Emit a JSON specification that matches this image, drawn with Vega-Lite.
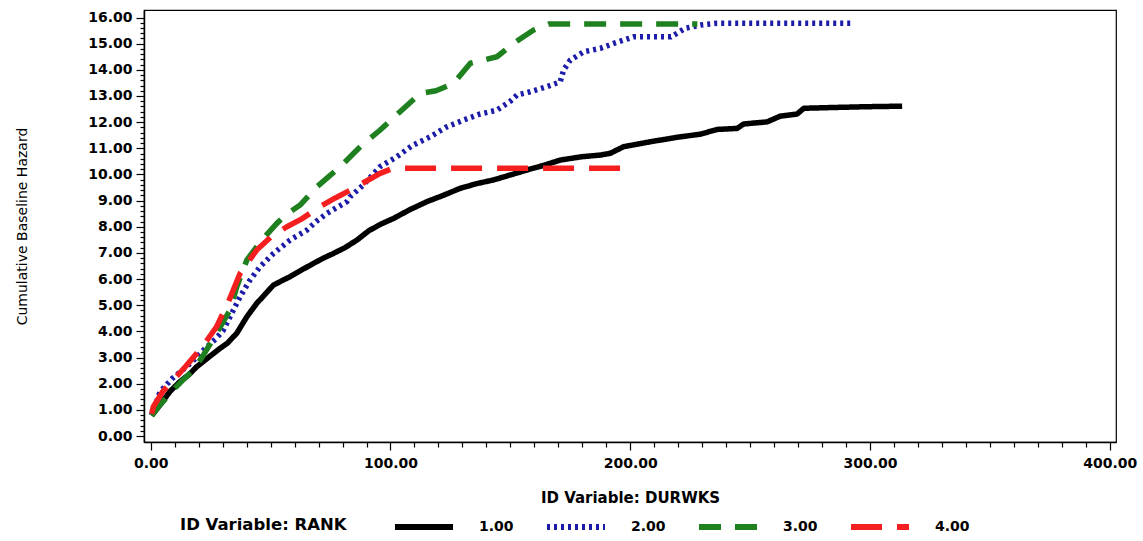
{
  "$schema": "https://vega.github.io/schema/vega-lite/v6.json",
  "width": 972,
  "height": 432,
  "autosize": {"type": "none"},
  "padding": {"left": 144, "top": 10, "right": 27, "bottom": 99},
  "background": "white",
  "config": {"view": {"stroke": "#000", "strokeWidth": 1.2}, "font": "DejaVu Sans"},
  "datasets": {
    "h": [
      {"rank": "1.00", "durwks": 0.4, "hazard": 0.78},
      {"rank": "1.00", "durwks": 4, "hazard": 1.2},
      {"rank": "1.00", "durwks": 8, "hazard": 1.7},
      {"rank": "1.00", "durwks": 12.2, "hazard": 2.08},
      {"rank": "1.00", "durwks": 16, "hazard": 2.35},
      {"rank": "1.00", "durwks": 19.2, "hazard": 2.65},
      {"rank": "1.00", "durwks": 24, "hazard": 3.0},
      {"rank": "1.00", "durwks": 28.9, "hazard": 3.35},
      {"rank": "1.00", "durwks": 32, "hazard": 3.55},
      {"rank": "1.00", "durwks": 35.9, "hazard": 3.93},
      {"rank": "1.00", "durwks": 40.1, "hazard": 4.56},
      {"rank": "1.00", "durwks": 44.2, "hazard": 5.07},
      {"rank": "1.00", "durwks": 47.5, "hazard": 5.4},
      {"rank": "1.00", "durwks": 51.2, "hazard": 5.77},
      {"rank": "1.00", "durwks": 55, "hazard": 5.95},
      {"rank": "1.00", "durwks": 58.1, "hazard": 6.09},
      {"rank": "1.00", "durwks": 63, "hazard": 6.35},
      {"rank": "1.00", "durwks": 67.9, "hazard": 6.6},
      {"rank": "1.00", "durwks": 72, "hazard": 6.8},
      {"rank": "1.00", "durwks": 76.2, "hazard": 6.98},
      {"rank": "1.00", "durwks": 81, "hazard": 7.2},
      {"rank": "1.00", "durwks": 86, "hazard": 7.49},
      {"rank": "1.00", "durwks": 91, "hazard": 7.85},
      {"rank": "1.00", "durwks": 96, "hazard": 8.1},
      {"rank": "1.00", "durwks": 101.3, "hazard": 8.32},
      {"rank": "1.00", "durwks": 108, "hazard": 8.65},
      {"rank": "1.00", "durwks": 115.2, "hazard": 8.96},
      {"rank": "1.00", "durwks": 122, "hazard": 9.2},
      {"rank": "1.00", "durwks": 129.1, "hazard": 9.47},
      {"rank": "1.00", "durwks": 136, "hazard": 9.65},
      {"rank": "1.00", "durwks": 143, "hazard": 9.79},
      {"rank": "1.00", "durwks": 150, "hazard": 9.98},
      {"rank": "1.00", "durwks": 156.9, "hazard": 10.17},
      {"rank": "1.00", "durwks": 164, "hazard": 10.35},
      {"rank": "1.00", "durwks": 170.8, "hazard": 10.55},
      {"rank": "1.00", "durwks": 180, "hazard": 10.68},
      {"rank": "1.00", "durwks": 187.5, "hazard": 10.74},
      {"rank": "1.00", "durwks": 191.7, "hazard": 10.81},
      {"rank": "1.00", "durwks": 197.2, "hazard": 11.06},
      {"rank": "1.00", "durwks": 208.4, "hazard": 11.25},
      {"rank": "1.00", "durwks": 219.5, "hazard": 11.42},
      {"rank": "1.00", "durwks": 229.3, "hazard": 11.54},
      {"rank": "1.00", "durwks": 236.2, "hazard": 11.72},
      {"rank": "1.00", "durwks": 244.6, "hazard": 11.76},
      {"rank": "1.00", "durwks": 247.3, "hazard": 11.93},
      {"rank": "1.00", "durwks": 257.1, "hazard": 12.01},
      {"rank": "1.00", "durwks": 262.6, "hazard": 12.23},
      {"rank": "1.00", "durwks": 269.6, "hazard": 12.31},
      {"rank": "1.00", "durwks": 272.4, "hazard": 12.53},
      {"rank": "1.00", "durwks": 284.9, "hazard": 12.56},
      {"rank": "1.00", "durwks": 298.8, "hazard": 12.59},
      {"rank": "1.00", "durwks": 313.4, "hazard": 12.61},

      {"rank": "2.00", "durwks": 0.4, "hazard": 0.8},
      {"rank": "2.00", "durwks": 2, "hazard": 1.2},
      {"rank": "2.00", "durwks": 3.9, "hazard": 1.69},
      {"rank": "2.00", "durwks": 9, "hazard": 2.2},
      {"rank": "2.00", "durwks": 15, "hazard": 2.65},
      {"rank": "2.00", "durwks": 19, "hazard": 3.0},
      {"rank": "2.00", "durwks": 23.4, "hazard": 3.41},
      {"rank": "2.00", "durwks": 27, "hazard": 3.7},
      {"rank": "2.00", "durwks": 30.3, "hazard": 4.05},
      {"rank": "2.00", "durwks": 33.8, "hazard": 4.69},
      {"rank": "2.00", "durwks": 37.3, "hazard": 5.33},
      {"rank": "2.00", "durwks": 41.4, "hazard": 5.96},
      {"rank": "2.00", "durwks": 45.6, "hazard": 6.47},
      {"rank": "2.00", "durwks": 51.2, "hazard": 6.98},
      {"rank": "2.00", "durwks": 58.1, "hazard": 7.49},
      {"rank": "2.00", "durwks": 65.1, "hazard": 7.87},
      {"rank": "2.00", "durwks": 69, "hazard": 8.2},
      {"rank": "2.00", "durwks": 73.5, "hazard": 8.51},
      {"rank": "2.00", "durwks": 77, "hazard": 8.7},
      {"rank": "2.00", "durwks": 81.8, "hazard": 8.96},
      {"rank": "2.00", "durwks": 83.2, "hazard": 9.15},
      {"rank": "2.00", "durwks": 88.7, "hazard": 9.6},
      {"rank": "2.00", "durwks": 95.7, "hazard": 10.3},
      {"rank": "2.00", "durwks": 102.7, "hazard": 10.68},
      {"rank": "2.00", "durwks": 109, "hazard": 11.1},
      {"rank": "2.00", "durwks": 116.6, "hazard": 11.44},
      {"rank": "2.00", "durwks": 123, "hazard": 11.8},
      {"rank": "2.00", "durwks": 130.5, "hazard": 12.08},
      {"rank": "2.00", "durwks": 137, "hazard": 12.3},
      {"rank": "2.00", "durwks": 144.4, "hazard": 12.46},
      {"rank": "2.00", "durwks": 150, "hazard": 12.8},
      {"rank": "2.00", "durwks": 152.8, "hazard": 13.04},
      {"rank": "2.00", "durwks": 158.3, "hazard": 13.16},
      {"rank": "2.00", "durwks": 165, "hazard": 13.35},
      {"rank": "2.00", "durwks": 170.8, "hazard": 13.54},
      {"rank": "2.00", "durwks": 172.2, "hazard": 13.99},
      {"rank": "2.00", "durwks": 175, "hazard": 14.37},
      {"rank": "2.00", "durwks": 180.6, "hazard": 14.69},
      {"rank": "2.00", "durwks": 187.5, "hazard": 14.82},
      {"rank": "2.00", "durwks": 193.1, "hazard": 15.01},
      {"rank": "2.00", "durwks": 201.4, "hazard": 15.26},
      {"rank": "2.00", "durwks": 217, "hazard": 15.26},
      {"rank": "2.00", "durwks": 223, "hazard": 15.59},
      {"rank": "2.00", "durwks": 229.3, "hazard": 15.71},
      {"rank": "2.00", "durwks": 236.2, "hazard": 15.78},
      {"rank": "2.00", "durwks": 293.2, "hazard": 15.78},

      {"rank": "3.00", "durwks": 0.4, "hazard": 0.78},
      {"rank": "3.00", "durwks": 4, "hazard": 1.2},
      {"rank": "3.00", "durwks": 9.4, "hazard": 1.76},
      {"rank": "3.00", "durwks": 13, "hazard": 2.1},
      {"rank": "3.00", "durwks": 17.8, "hazard": 2.52},
      {"rank": "3.00", "durwks": 22, "hazard": 3.1},
      {"rank": "3.00", "durwks": 27.5, "hazard": 3.93},
      {"rank": "3.00", "durwks": 33.1, "hazard": 4.82},
      {"rank": "3.00", "durwks": 35.9, "hazard": 5.71},
      {"rank": "3.00", "durwks": 40.1, "hazard": 6.73},
      {"rank": "3.00", "durwks": 46.3, "hazard": 7.49},
      {"rank": "3.00", "durwks": 52.6, "hazard": 8.13},
      {"rank": "3.00", "durwks": 57, "hazard": 8.5},
      {"rank": "3.00", "durwks": 62.3, "hazard": 8.83},
      {"rank": "3.00", "durwks": 69.3, "hazard": 9.53},
      {"rank": "3.00", "durwks": 74, "hazard": 9.9},
      {"rank": "3.00", "durwks": 79, "hazard": 10.29},
      {"rank": "3.00", "durwks": 87.4, "hazard": 11.06},
      {"rank": "3.00", "durwks": 95.7, "hazard": 11.7},
      {"rank": "3.00", "durwks": 104, "hazard": 12.4},
      {"rank": "3.00", "durwks": 112.4, "hazard": 13.1},
      {"rank": "3.00", "durwks": 119, "hazard": 13.2},
      {"rank": "3.00", "durwks": 126.3, "hazard": 13.48},
      {"rank": "3.00", "durwks": 133.3, "hazard": 14.25},
      {"rank": "3.00", "durwks": 144.4, "hazard": 14.5},
      {"rank": "3.00", "durwks": 151.3, "hazard": 15.01},
      {"rank": "3.00", "durwks": 159.7, "hazard": 15.52},
      {"rank": "3.00", "durwks": 166, "hazard": 15.75},
      {"rank": "3.00", "durwks": 228, "hazard": 15.75},

      {"rank": "4.00", "durwks": 0.4, "hazard": 0.85},
      {"rank": "4.00", "durwks": 1.1, "hazard": 1.12},
      {"rank": "4.00", "durwks": 5, "hazard": 1.7},
      {"rank": "4.00", "durwks": 9.4, "hazard": 2.14},
      {"rank": "4.00", "durwks": 14, "hazard": 2.6},
      {"rank": "4.00", "durwks": 19.2, "hazard": 3.16},
      {"rank": "4.00", "durwks": 23, "hazard": 3.6},
      {"rank": "4.00", "durwks": 27.5, "hazard": 4.18},
      {"rank": "4.00", "durwks": 32.4, "hazard": 5.13},
      {"rank": "4.00", "durwks": 37.3, "hazard": 6.22},
      {"rank": "4.00", "durwks": 44.2, "hazard": 7.11},
      {"rank": "4.00", "durwks": 50, "hazard": 7.6},
      {"rank": "4.00", "durwks": 56.8, "hazard": 8.0},
      {"rank": "4.00", "durwks": 63, "hazard": 8.3},
      {"rank": "4.00", "durwks": 70.7, "hazard": 8.77},
      {"rank": "4.00", "durwks": 77, "hazard": 9.1},
      {"rank": "4.00", "durwks": 83.2, "hazard": 9.4},
      {"rank": "4.00", "durwks": 90, "hazard": 9.75},
      {"rank": "4.00", "durwks": 95.7, "hazard": 10.04},
      {"rank": "4.00", "durwks": 100, "hazard": 10.2},
      {"rank": "4.00", "durwks": 104, "hazard": 10.24},
      {"rank": "4.00", "durwks": 196, "hazard": 10.24}
    ]
  },
  "data": {"name": "h"},
  "mark": {"type": "line", "strokeWidth": 5.5, "strokeCap": "butt", "strokeJoin": "round"},
  "encoding": {
    "x": {
      "field": "durwks",
      "type": "quantitative",
      "scale": {"domain": [-2.8, 402.6], "nice": false, "zero": false},
      "axis": {
        "values": [0,10,20,30,40,50,60,70,80,90,100,110,120,130,140,150,160,170,180,190,200,210,220,230,240,250,260,270,280,290,300,310,320,330,340,350,360,370,380,390,400],
        "labelExpr": "datum.value % 100 === 0 ? format(datum.value, '.2f') : ''",
        "tickSize": {"condition": {"test": "datum.value % 100 === 0", "value": 8}, "value": 5},
        "grid": false,
        "domainColor": "#000",
        "domainWidth": 1.5,
        "tickColor": "#000",
        "tickWidth": 1.2,
        "labelFont": "DejaVu Sans",
        "labelFontWeight": "bold",
        "labelFontSize": 14,
        "labelColor": "#000",
        "labelPadding": 6,
        "labelOverlap": false,
        "labelFlush": false,
        "title": "ID Variable: DURWKS",
        "titleFont": "DejaVu Sans",
        "titleFontSize": 15,
        "titleFontWeight": "bold",
        "titleColor": "#000",
        "titleX": 486,
        "titleY": 55,
        "titleBaseline": "middle",
        "titleAlign": "center"
      }
    },
    "y": {
      "field": "hazard",
      "type": "quantitative",
      "scale": {"domain": [-0.229, 16.287], "nice": false, "zero": false},
      "axis": {
        "values": [0,0.2,0.4,0.6,0.8,1,1.2,1.4,1.6,1.8,2,2.2,2.4,2.6,2.8,3,3.2,3.4,3.6,3.8,4,4.2,4.4,4.6,4.8,5,5.2,5.4,5.6,5.8,6,6.2,6.4,6.6,6.8,7,7.2,7.4,7.6,7.8,8,8.2,8.4,8.6,8.8,9,9.2,9.4,9.6,9.8,10,10.2,10.4,10.6,10.8,11,11.2,11.4,11.6,11.8,12,12.2,12.4,12.6,12.8,13,13.2,13.4,13.6,13.8,14,14.2,14.4,14.6,14.8,15,15.2,15.4,15.6,15.8,16],
        "labelExpr": "abs(datum.value - round(datum.value)) < 0.001 ? format(datum.value, '.2f') : ''",
        "tickSize": {"condition": {"test": "abs(datum.value - round(datum.value)) < 0.001", "value": 8}, "value": 4},
        "grid": false,
        "domainColor": "#000",
        "domainWidth": 1.5,
        "tickColor": "#000",
        "tickWidth": 1.2,
        "labelFont": "DejaVu Sans",
        "labelFontWeight": "bold",
        "labelFontSize": 14,
        "labelColor": "#000",
        "labelPadding": 4,
        "labelOverlap": false,
        "labelFlush": false,
        "title": "Cumulative Baseline Hazard",
        "titleFont": "DejaVu Sans",
        "titleFontSize": 14,
        "titleFontWeight": "normal",
        "titleColor": "#000",
        "titleX": -122,
        "titleY": 216,
        "titleAngle": 270,
        "titleBaseline": "middle",
        "titleAlign": "center"
      }
    },
    "color": {
      "field": "rank",
      "type": "nominal",
      "scale": {"domain": ["1.00", "2.00", "3.00", "4.00"], "range": ["#000000", "#1c1caa", "#1e801e", "#f51f1f"]},
      "legend": {
        "orient": "none", "legendX": 36, "legendY": 485, "direction": "horizontal",
        "title": "ID Variable: RANK", "titleOrient": "left", "titleAnchor": "middle", "titleFont": "DejaVu Sans", "titleFontSize": 16.5, "titleFontWeight": "bold", "titleColor": "#000", "titlePadding": 45, "titleBaseline": "top",
        "symbolType": "stroke", "symbolSize": 3364, "symbolStrokeWidth": 6,
        "labelFont": "DejaVu Sans", "labelFontSize": 14, "labelFontWeight": "bold", "labelColor": "#000", "labelOffset": 23, "columnPadding": 21
      }
    },
    "strokeDash": {
      "field": "rank",
      "type": "nominal",
      "scale": {"domain": ["1.00", "2.00", "3.00", "4.00"], "range": [[1, 0], [3, 4], [22, 14], [31, 15]]},
      "legend": {
        "orient": "none", "legendX": 36, "legendY": 485, "direction": "horizontal",
        "title": "ID Variable: RANK", "titleOrient": "left", "titleAnchor": "middle", "titleFont": "DejaVu Sans", "titleFontSize": 16.5, "titleFontWeight": "bold", "titleColor": "#000", "titlePadding": 45, "titleBaseline": "top",
        "symbolType": "stroke", "symbolSize": 3364, "symbolStrokeWidth": 6,
        "labelFont": "DejaVu Sans", "labelFontSize": 14, "labelFontWeight": "bold", "labelColor": "#000", "labelOffset": 23, "columnPadding": 21
      }
    }
  }
}
